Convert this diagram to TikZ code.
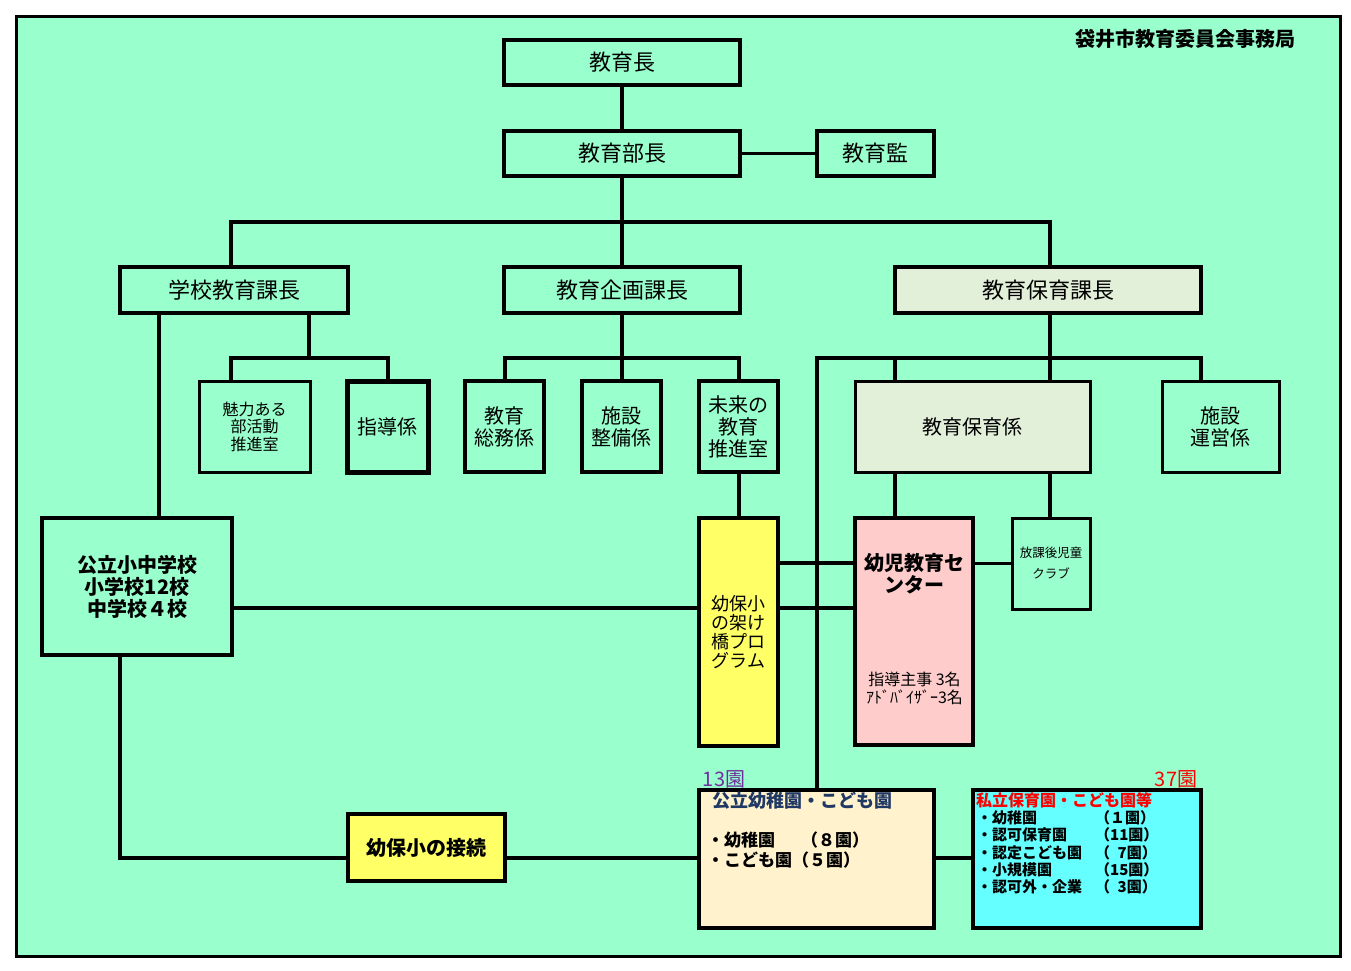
\documentclass[tikz,border=0pt]{standalone}
\usepackage{fontspec}
\setmainfont{Noto Sans CJK JP}
\definecolor{bg}{HTML}{99FFCC}
\definecolor{grayleaf}{HTML}{E2EFD9}
\definecolor{rosebox}{HTML}{FFCCCC}
\definecolor{lemon}{HTML}{FFFF66}
\definecolor{cream}{HTML}{FFF2CC}
\definecolor{aqua}{HTML}{66FFFF}
\definecolor{navy}{HTML}{203864}
\definecolor{violet}{HTML}{7030A0}
\begin{document}
\begin{tikzpicture}[x=1pt,y=-1pt]
  \tikzstyle{box}=[draw, rectangle, line width=4pt, inner sep=0pt, fill=bg, align=center]
  \tikzstyle{big}=[font=\fontsize{22}{26}\selectfont]
  \tikzstyle{mid}=[font=\fontsize{20}{22}\selectfont]
  \tikzstyle{link}=[line width=4pt]
  \tikzstyle{thinlink}=[line width=2.5pt]
  \useasboundingbox (0,0) rectangle (1351,970);
  \draw[line width=3pt, fill=bg] (16,16) rectangle (1340,956);
  \node (title) at (1185,39) {\fontsize{20}{22}\selectfont\bfseries 袋井市教育委員会事務局};
  % top levels
  \node[box, big, minimum width=236pt, minimum height=45pt] (kyoikucho) at (622,62.5) {教育長};
  \node[box, big, minimum width=236pt, minimum height=45pt] (bucho) at (622,153.5) {教育部長};
  \node[box, big, minimum width=117pt, minimum height=45pt] (kyoikukan) at (875.5,153.5) {教育監};
  \node[box, big, minimum width=228pt, minimum height=46pt] (gakko) at (234,290) {学校教育課長};
  \node[box, big, minimum width=236pt, minimum height=46pt] (kikaku) at (622,290) {教育企画課長};
  \node[box, big, fill=grayleaf, minimum width=306pt, minimum height=46pt] (hoiku) at (1048,290) {教育保育課長};
  % sections
  \node[box, line width=3pt, minimum width=111pt, minimum height=91pt, font=\fontsize{16}{17.5}\selectfont] (miryoku) at (254.5,426.5) {魅力ある\\部活動\\推進室};
  \node[box, mid, line width=5pt, minimum width=81pt, minimum height=91pt] (shido) at (387.5,426.5) {指導係};
  \node[box, mid, minimum width=79pt, minimum height=91pt] (somu) at (504.5,426.5) {教育\\総務係};
  \node[box, mid, minimum width=79pt, minimum height=91pt] (shisetsu) at (621.5,426.5) {施設\\整備係};
  \node[box, mid, minimum width=79pt, minimum height=91pt] (mirai) at (738.5,426.5) {未来の\\教育\\推進室};
  \node[box, mid, line width=3pt, fill=grayleaf, minimum width=235pt, minimum height=91pt] (hoikugakari) at (972.5,426.5) {教育保育係};
  \node[box, mid, line width=3pt, minimum width=117pt, minimum height=91pt] (unei) at (1220.5,426.5) {施設\\運営係};
  % lower part
  \node[box, fill=lemon, minimum width=79pt, minimum height=228pt, font=\fontsize{18}{19}\selectfont] (kakehashi) at (738.5,632) {幼保小\\の架け\\橋プロ\\グラム};
  \node[box, fill=rosebox, minimum width=118pt, minimum height=227pt] (center) at (914,631.5) {};
  \node[font=\fontsize{20}{22}\selectfont\bfseries, align=center] (centername) at (914,574) {幼児教育セ\\ンター};
  \node[font=\fontsize{16}{18}\selectfont, align=center] (centerstaff) at (914.5,688) {指導主事 3名\\ｱﾄﾞﾊﾞｲｻﾞｰ3名};
  \node[box, line width=3pt, minimum width=78pt, minimum height=91pt, font=\fontsize{12.5}{21}\selectfont] (houkago) at (1051,563.5) {放課後児童\\クラブ};
  \node[box, minimum width=190pt, minimum height=137pt, font=\fontsize{20}{22}\selectfont\bfseries] (shochu) at (137,586.5) {公立小中学校\\小学校12校\\中学校４校};
  \node[box, fill=lemon, minimum width=157pt, minimum height=67pt, font=\fontsize{20}{22}\selectfont\bfseries] (setsuzoku) at (426.5,847.5) {幼保小の接続};
  \node[box, fill=cream, minimum width=235pt, minimum height=138pt] (koritsu) at (816.5,859) {};
  \node[box, fill=aqua, minimum width=228pt, minimum height=138pt] (shiritsu) at (1087,859) {};
  \node[text=violet, font=\fontsize{20}{22}\selectfont] (koritsucount) at (724,779) {13園};
  \node[text=red, font=\fontsize{20}{22}\selectfont] (shiritsucount) at (1176,779) {37園};
  \node[anchor=west, inner sep=0pt, text=navy, font=\fontsize{18}{20}\selectfont\bfseries] (koritsuname) at (712,801) {公立幼稚園・こども園};
  \node[anchor=west, inner sep=0pt, align=left, font=\fontsize{17}{20}\selectfont\bfseries] (koritsulist) at (707,850) {\makebox[94pt][l]{・幼稚園}（８園）\\・こども園（５園）};
  \node[anchor=west, inner sep=0pt, text=red, font=\fontsize{16}{18}\selectfont\bfseries] (shiritsuname) at (976,800) {私立保育園・こども園等};
  \node[anchor=west, inner sep=0pt, align=left, font=\fontsize{15}{17.25}\selectfont\bfseries] (shiritsulist) at (977,852.5) {\makebox[118pt][l]{・幼稚園}（１園）\\
    \makebox[118pt][l]{・認可保育園}（11園）\\
    \makebox[118pt][l]{・認定こども園}（\hspace{0.5em}7園）\\
    \makebox[118pt][l]{・小規模園}（15園）\\
    \makebox[118pt][l]{・認可外・企業}（\hspace{0.5em}3園）};
  % connectors
  \draw[link] (kyoikucho.south) -- (bucho.north);
  \draw[thinlink] (bucho.east) -- (kyoikukan.west);
  \draw[link] (bucho.south) -- (kikaku.north);
  \coordinate (bar) at (622,222);
  \draw[link] (gakko.north -| 231,0) |- (bar) -| (hoiku.north -| 1050,0);
  \coordinate (gbar) at (309,358);
  \draw[link] (gakko.south -| gbar) -- (gbar);
  \draw[link] (miryoku.north -| 231,0) |- (gbar) -| (shido.north);
  \draw[link] (gakko.south -| 159,0) -- (shochu.north -| 159,0);
  \coordinate (kbar) at (622,358);
  \draw[link] (kikaku.south) -- (kbar);
  \draw[link] (somu.north) |- (kbar) -| (mirai.north);
  \draw[link] (shisetsu.north) -- (shisetsu.north |- kbar);
  \draw[link] (mirai.south) -- (kakehashi.north);
  \coordinate (hbar) at (1050,358);
  \draw[link] (hoiku.south -| hbar) -- (hbar);
  \draw[link] (koritsu.north -| 817,0) |- (hbar) -| (unei.north -| 1201,0);
  \draw[link] (hoikugakari.north -| 895,0) -- (hbar -| 895,0);
  \draw[link] (hoikugakari.north -| hbar) -- (hbar);
  \draw[link] (hoikugakari.south -| 895,0) -- (center.north -| 895,0);
  \draw[link] (hoikugakari.south -| hbar) -- (houkago.north -| hbar);
  \draw[thinlink] (center.east |- houkago) -- (houkago.west);
  \draw[link] (kakehashi.east |- 0,563) -- (center.west |- 0,563);
  \draw[link] (kakehashi.east |- 0,608) -- (center.west |- 0,608);
  \draw[link] (shochu.east |- 0,608) -- (kakehashi.west |- 0,608);
  \draw[link] (shochu.south -| 120,0) |- (setsuzoku.west |- 0,858);
  \draw[link] (setsuzoku.east |- 0,858) -- (koritsu.west |- 0,858);
  \draw[link] (koritsu.east |- 0,858) -- (shiritsu.west |- 0,858);
\end{tikzpicture}
\end{document}
